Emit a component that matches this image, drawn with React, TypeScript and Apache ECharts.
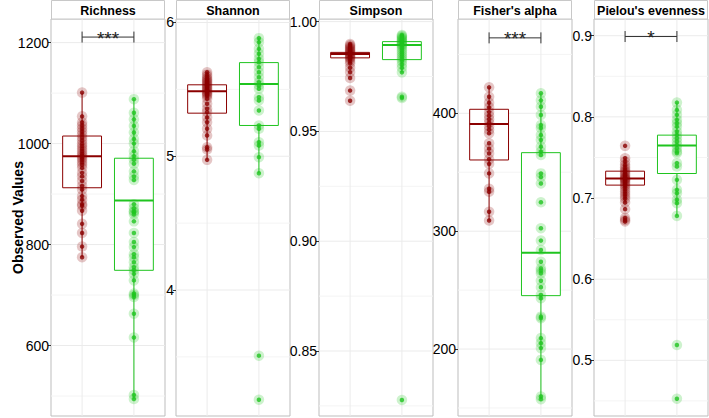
import React, { useEffect, useRef } from 'react';
import * as echarts from 'echarts';

// ---------- data ----------
const panelTitles = ['Richness', 'Shannon', 'Simpson', "Fisher's alpha", "Pielou's evenness"];

const richnessRed = [1101, 1054, 1042, 1036, 1030, 1024, 1018, 1012, 1006, 1000, 995, 990, 985, 980, 976, 972, 968, 963, 958, 952, 942, 935, 926, 916, 909, 896, 889, 880, 877, 867, 841, 823, 796, 775];
const richnessGreen = [1088, 1061, 1048, 1035, 1022, 1009, 1000, 985, 975, 968, 960, 945, 935, 928, 880, 872, 866, 864, 860, 846, 823, 805, 795, 781, 775, 765, 755, 749, 742, 729, 703, 700, 696, 663, 616, 502, 494];

const shannonRed = [5.628, 5.61, 5.595, 5.58, 5.57, 5.56, 5.55, 5.54, 5.53, 5.52, 5.51, 5.5, 5.49, 5.48, 5.47, 5.46, 5.45, 5.43, 5.392, 5.355, 5.33, 5.29, 5.254, 5.205, 5.155, 5.067, 5.05, 4.973];
const shannonGreen = [5.883, 5.853, 5.803, 5.766, 5.728, 5.703, 5.666, 5.628, 5.591, 5.553, 5.529, 5.504, 5.441, 5.417, 5.342, 5.23, 5.205, 5.105, 5.08, 4.993, 4.873, 3.509, 3.18];

const simpsonRed = [0.9898, 0.9892, 0.9886, 0.988, 0.9875, 0.987, 0.9865, 0.986, 0.9855, 0.985, 0.9845, 0.984, 0.9835, 0.983, 0.982, 0.981, 0.979, 0.977, 0.9743, 0.9686, 0.964];
const simpsonGreen = [0.9939, 0.9935, 0.993, 0.9925, 0.992, 0.9915, 0.991, 0.9905, 0.99, 0.9895, 0.989, 0.988, 0.987, 0.986, 0.985, 0.984, 0.983, 0.982, 0.9805, 0.979, 0.9769, 0.9658, 0.9652, 0.8277];

const fisherRed = [422, 414, 409, 405, 401, 398, 395, 392, 389, 386, 383, 374.6, 370, 366, 361, 357, 349, 336, 333.5, 316.5, 309];
const fisherGreen = [417, 411, 405.6, 398.6, 390, 387.5, 381.6, 377.4, 371.7, 367.4, 364.6, 349, 346, 340.5, 324.5, 302.5, 292, 284, 274.1, 268.4, 266.5, 264.3, 258, 252.4, 245.9, 243.1, 227.5, 226.2, 209.3, 205, 200.8, 190.8, 159.7, 157.5];

const pielouRed = [0.7643, 0.7491, 0.745, 0.741, 0.738, 0.735, 0.733, 0.731, 0.729, 0.727, 0.725, 0.724, 0.723, 0.722, 0.72, 0.718, 0.716, 0.714, 0.711, 0.708, 0.705, 0.702, 0.699, 0.6945, 0.6863, 0.6753, 0.673, 0.6711];
const pielouGreen = [0.8176, 0.8086, 0.8025, 0.7963, 0.7922, 0.788, 0.7819, 0.7778, 0.7737, 0.7696, 0.7655, 0.7614, 0.7573, 0.7553, 0.743, 0.7388, 0.7224, 0.7101, 0.706, 0.6978, 0.6937, 0.678, 0.5188, 0.4527];

// box stats: [lower whisker, Q1, median, Q3, upper whisker]
const boxRed = [
  [775, 912.5, 975, 1015, 1101],
  [4.973, 5.322, 5.486, 5.534, 5.628],
  [0.981, 0.9835, 0.9853, 0.986, 0.9898],
  [309, 360.4, 391, 403.4, 422],
  [0.6945, 0.7159, 0.724, 0.7331, 0.7491],
];
const boxGreen = [
  [494, 749, 887.5, 971, 1088],
  [4.873, 5.23, 5.54, 5.7, 5.883],
  [0.9769, 0.9827, 0.9894, 0.9909, 0.9939],
  [157.5, 245.3, 281.8, 366.6, 417],
  [0.678, 0.7302, 0.7647, 0.7775, 0.8176],
];

const axisMin = [460.4, 3.058, 0.8204, 143.2, 0.4314];
const axisMax = [1246.8, 6.026, 1.0012, 480, 0.9206];
const majorTicks = [
  [600, 800, 1000, 1200],
  [4, 5, 6],
  [0.85, 0.9, 0.95, 1.0],
  [200, 300, 400],
  [0.5, 0.6, 0.7, 0.8, 0.9],
];
const minorTicks = [
  [500, 700, 900, 1100],
  [3.5, 4.5, 5.5],
  [0.825, 0.875, 0.925, 0.975],
  [150, 250, 350, 450],
  [0.45, 0.55, 0.65, 0.75, 0.85],
];
const tickDecimals = [0, 0, 2, 0, 1];
const groupPositions = [1, 2];

const sigLevel = [1211, null, null, 464, 0.899];
const sigLabel = ['***', '', '', '***', '*'];

const redValues = [richnessRed, shannonRed, simpsonRed, fisherRed, pielouRed];
const greenValues = [richnessGreen, shannonGreen, simpsonGreen, fisherGreen, pielouGreen];

// ---------- style ----------
const RED = '#8b0000';
const GREEN = '#1fc41f';
const RED_HALO = 'rgba(139,0,0,0.28)';
const GREEN_HALO = 'rgba(31,196,31,0.28)';
const FONT = "'Liberation Sans', Arial, Helvetica, sans-serif";
const gridLefts = [51, 176, 319, 458, 594];
const GRID_W = 114;
const GRID_TOP = 19;
const GRID_H = 397;

function hLineRenderer(color: string) {
  return (params: any, api: any) => {
    const cs = params.coordSys;
    const y = api.coord([1, api.value(0)])[1];
    return {
      type: 'line',
      shape: { x1: cs.x, y1: y, x2: cs.x + cs.width, y2: y },
      style: { stroke: color, lineWidth: 1 },
    };
  };
}

function vLineRenderer(color: string) {
  return (params: any, api: any) => {
    const cs = params.coordSys;
    const x = api.coord([api.value(0), 0])[0];
    return {
      type: 'line',
      shape: { x1: x, y1: cs.y, x2: x, y2: cs.y + cs.height },
      style: { stroke: color, lineWidth: 1 },
    };
  };
}

function boxRenderer(color: string) {
  return (params: any, api: any) => {
    const x = api.value(0);
    const pMin = api.coord([x, api.value(1)]);
    const pQ1 = api.coord([x, api.value(2)]);
    const pMed = api.coord([x, api.value(3)]);
    const pQ3 = api.coord([x, api.value(4)]);
    const pMax = api.coord([x, api.value(5)]);
    const l = api.coord([x - 0.375, api.value(3)])[0];
    const r = api.coord([x + 0.375, api.value(3)])[0];
    const ls = { stroke: color, lineWidth: 1 };
    return {
      type: 'group',
      children: [
        { type: 'line', shape: { x1: pMax[0], y1: pMax[1], x2: pQ3[0], y2: pQ3[1] }, style: ls },
        { type: 'line', shape: { x1: pQ1[0], y1: pQ1[1], x2: pMin[0], y2: pMin[1] }, style: ls },
        { type: 'rect', shape: { x: l, y: pQ3[1], width: r - l, height: pQ1[1] - pQ3[1] }, style: { fill: '#ffffff', stroke: color, lineWidth: 1 } },
        { type: 'line', shape: { x1: l, y1: pMed[1], x2: r, y2: pMed[1] }, style: { stroke: color, lineWidth: 2 } },
      ],
    };
  };
}

function sigRenderer(label: string) {
  return (params: any, api: any) => {
    const y = api.value(1);
    const p1 = api.coord([1, y]);
    const p2 = api.coord([2, y]);
    const st = { stroke: '#333333', lineWidth: 1 };
    return {
      type: 'group',
      children: [
        { type: 'line', shape: { x1: p1[0], y1: p1[1], x2: p2[0], y2: p2[1] }, style: st },
        { type: 'line', shape: { x1: p1[0], y1: p1[1] - 5.5, x2: p1[0], y2: p1[1] + 5.5 }, style: st },
        { type: 'line', shape: { x1: p2[0], y1: p2[1] - 5.5, x2: p2[0], y2: p2[1] + 5.5 }, style: st },
        {
          type: 'text',
          x: (p1[0] + p2[0]) / 2,
          y: p1[1] + 1,
          style: { text: label, fontSize: 19, fontFamily: FONT, fill: '#222222', align: 'center', verticalAlign: 'middle' },
        },
      ],
    };
  };
}

export default function App() {
  const ref = useRef<HTMLDivElement>(null);
  useEffect(() => {
    if (!ref.current) return;
    const chart = echarts.init(ref.current, null, { renderer: 'svg' });

    const grid: any[] = [];
    const xAxis: any[] = [];
    const yAxis: any[] = [];
    const series: any[] = [];
    const graphic: any[] = [];

    panelTitles.forEach((title, i) => {
      grid.push({
        left: gridLefts[i], top: GRID_TOP, width: GRID_W, height: GRID_H,
        show: true, borderColor: '#bdbdbd', borderWidth: 1, backgroundColor: '#ffffff',
      });
      xAxis.push({ type: 'value', gridIndex: i, min: 0.4, max: 2.6, show: false });
      const dec = tickDecimals[i];
      yAxis.push({
        type: 'value', gridIndex: i, min: axisMin[i], max: axisMax[i],
        axisLine: { show: false },
        splitLine: { show: false },
        axisTick: { show: true, customValues: majorTicks[i], length: 3, lineStyle: { color: '#333333', width: 1 } },
        axisLabel: {
          show: true, customValues: majorTicks[i], margin: 2, fontSize: 14, color: '#000000', fontFamily: FONT,
          formatter: (v: number) => v.toFixed(dec),
        },
      });

      // grid lines
      series.push({
        type: 'custom', xAxisIndex: i, yAxisIndex: i, z: 1, silent: true,
        renderItem: hLineRenderer('#f4f4f4'),
        data: minorTicks[i].map((v) => [v]), encode: { y: 0 },
      });
      series.push({
        type: 'custom', xAxisIndex: i, yAxisIndex: i, z: 1, silent: true,
        renderItem: hLineRenderer('#ebebeb'),
        data: majorTicks[i].map((v) => [v]), encode: { y: 0 },
      });
      series.push({
        type: 'custom', xAxisIndex: i, yAxisIndex: i, z: 1, silent: true,
        renderItem: vLineRenderer('#ebebeb'),
        data: groupPositions.map((v) => [v]), encode: { x: 0 },
      });

      // boxes
      series.push({
        type: 'custom', xAxisIndex: i, yAxisIndex: i, z: 2, silent: true,
        renderItem: boxRenderer(RED),
        data: [[1, ...boxRed[i]]],
        encode: { x: 0, y: [1, 2, 3, 4, 5] },
      });
      series.push({
        type: 'custom', xAxisIndex: i, yAxisIndex: i, z: 2, silent: true,
        renderItem: boxRenderer(GREEN),
        data: [[2, ...boxGreen[i]]],
        encode: { x: 0, y: [1, 2, 3, 4, 5] },
      });

      // halos
      series.push({
        type: 'scatter', xAxisIndex: i, yAxisIndex: i, z: 3, silent: true,
        symbolSize: 10.5, itemStyle: { color: RED_HALO },
        data: redValues[i].map((v) => [1, v]),
      });
      series.push({
        type: 'scatter', xAxisIndex: i, yAxisIndex: i, z: 3, silent: true,
        symbolSize: 10.5, itemStyle: { color: GREEN_HALO },
        data: greenValues[i].map((v) => [2, v]),
      });
      // dots
      series.push({
        type: 'scatter', xAxisIndex: i, yAxisIndex: i, z: 4, silent: true,
        symbolSize: 4.5, itemStyle: { color: RED },
        data: redValues[i].map((v) => [1, v]),
      });
      series.push({
        type: 'scatter', xAxisIndex: i, yAxisIndex: i, z: 4, silent: true,
        symbolSize: 4.5, itemStyle: { color: GREEN },
        data: greenValues[i].map((v) => [2, v]),
      });

      // significance bracket
      const lvl = sigLevel[i];
      if (lvl !== null) {
        series.push({
          type: 'custom', xAxisIndex: i, yAxisIndex: i, z: 5, silent: true,
          renderItem: sigRenderer(sigLabel[i]),
          data: [[1.5, lvl]],
        });
      }

      // strip header
      graphic.push({
        type: 'group',
        children: [
          {
            type: 'rect', shape: { x: gridLefts[i] + 0.5, y: 0.5, width: GRID_W - 1, height: GRID_TOP - 0.5 },
            style: { fill: '#ffffff', stroke: '#c8c8c8', lineWidth: 1 },
          },
          {
            type: 'text', x: gridLefts[i] + GRID_W / 2, y: 10.5,
            style: { text: title, fontSize: 12.5, fontWeight: 'bold', fontFamily: FONT, fill: '#000000', align: 'center', verticalAlign: 'middle' },
          },
        ],
      });
    });

    graphic.push({
      type: 'text', x: 18, y: GRID_TOP + GRID_H / 2, rotation: Math.PI / 2,
      style: { text: 'Observed Values', fontSize: 14, fontWeight: 'bold', fontFamily: FONT, fill: '#000000', align: 'center', verticalAlign: 'middle' },
    });

    chart.setOption({
      animation: false,
      backgroundColor: '#ffffff',
      textStyle: { fontFamily: FONT },
      grid, xAxis, yAxis, series, graphic,
    });
    return () => chart.dispose();
  }, []);

  return <div ref={ref} style={{ position: 'fixed', left: 0, top: 0, width: 709, height: 418 }} />;
}
